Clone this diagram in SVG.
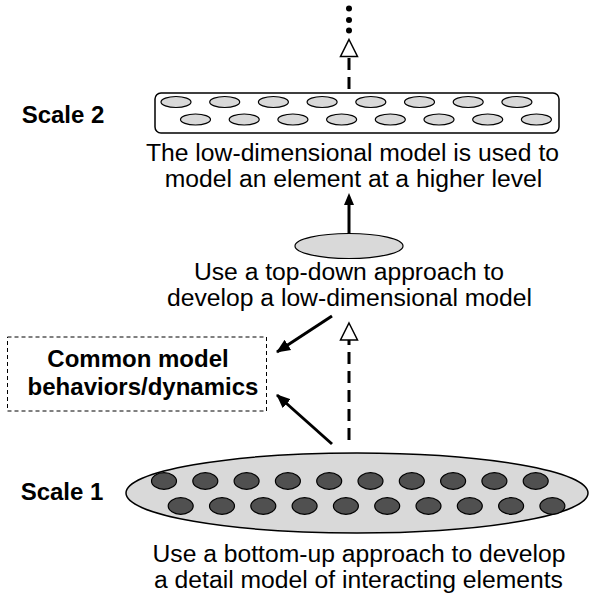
<svg xmlns="http://www.w3.org/2000/svg" width="595" height="600" viewBox="0 0 595 600">
<style>
.t{font-family:"Liberation Sans",Arial,sans-serif;font-size:24.7px;fill:#000;text-anchor:middle}
.b{font-weight:bold;font-size:24px}
.lg{fill:#d9d9d9;stroke:#000;stroke-width:1.5}
.dk{fill:#505050;stroke:#000;stroke-width:1.2}
.sm{fill:#d9d9d9;stroke:#000;stroke-width:1.2}
.dash{stroke:#000;stroke-width:3;stroke-dasharray:12 7;fill:none}
.solid{stroke:#000;stroke-width:3;fill:none}
</style>
<defs>
<marker id="solidhead" viewBox="0 0 14 14" markerWidth="14" markerHeight="14" refX="13" refY="7" orient="auto" markerUnits="userSpaceOnUse">
<path d="M0,1 L14,7 L0,13 Z" fill="#000"/>
</marker>
</defs>

<g id="scale2-label"><text class="t b" x="63" y="123">Scale 2</text></g>
<g id="scale1-label"><text class="t b" x="62" y="500">Scale 1</text></g>

<g id="scale2-node">
<rect x="155" y="93" width="404" height="40" rx="6" fill="#fff" stroke="#000" stroke-width="1.5"/>
<g class="sm">
<ellipse cx="176" cy="102" rx="15" ry="5.5"/>
<ellipse cx="224.7" cy="102" rx="15" ry="5.5"/>
<ellipse cx="273.4" cy="102" rx="15" ry="5.5"/>
<ellipse cx="322.1" cy="102" rx="15" ry="5.5"/>
<ellipse cx="370.8" cy="102" rx="15" ry="5.5"/>
<ellipse cx="419.5" cy="102" rx="15" ry="5.5"/>
<ellipse cx="468.2" cy="102" rx="15" ry="5.5"/>
<ellipse cx="516.9" cy="102" rx="15" ry="5.5"/>
<ellipse cx="195.5" cy="119.5" rx="15" ry="5.5"/>
<ellipse cx="244.2" cy="119.5" rx="15" ry="5.5"/>
<ellipse cx="292.9" cy="119.5" rx="15" ry="5.5"/>
<ellipse cx="341.6" cy="119.5" rx="15" ry="5.5"/>
<ellipse cx="390.3" cy="119.5" rx="15" ry="5.5"/>
<ellipse cx="439" cy="119.5" rx="15" ry="5.5"/>
<ellipse cx="487.7" cy="119.5" rx="15" ry="5.5"/>
<ellipse cx="536.4" cy="119.5" rx="15" ry="5.5"/>
</g>
</g>
<g id="scale2-text">
<text class="t" x="352.5" y="161">The low-dimensional model is used to</text>
<text class="t" x="353.5" y="187">model an element at a higher level</text>
</g>

<g id="lowdim-node">
<ellipse class="sm" cx="349" cy="246" rx="54" ry="12.5"/>
</g>
<g id="lowdim-text">
<text class="t" x="349" y="280">Use a top-down approach to</text>
<text class="t" x="349.5" y="306">develop a low-dimensional model</text>
</g>

<g id="common-node">
<rect x="7.5" y="337" width="259" height="74" fill="#fff" stroke="#000" stroke-width="1" stroke-dasharray="4 3"/>
<text class="t b" x="138" y="367">Common model</text>
<text class="t b" x="143" y="395">behaviors/dynamics</text>
</g>

<g id="scale1-node">
<ellipse class="lg" cx="357" cy="493" rx="231" ry="40"/>
<g class="dk">
<ellipse cx="164" cy="481" rx="12.5" ry="8.3"/>
<ellipse cx="205.3" cy="481" rx="12.5" ry="8.3"/>
<ellipse cx="246.6" cy="481" rx="12.5" ry="8.3"/>
<ellipse cx="287.9" cy="481" rx="12.5" ry="8.3"/>
<ellipse cx="329.2" cy="481" rx="12.5" ry="8.3"/>
<ellipse cx="370.5" cy="481" rx="12.5" ry="8.3"/>
<ellipse cx="411.8" cy="481" rx="12.5" ry="8.3"/>
<ellipse cx="453.1" cy="481" rx="12.5" ry="8.3"/>
<ellipse cx="494.4" cy="481" rx="12.5" ry="8.3"/>
<ellipse cx="535.7" cy="481" rx="12.5" ry="8.3"/>
<ellipse cx="180.7" cy="506" rx="12.5" ry="8.3"/>
<ellipse cx="222" cy="506" rx="12.5" ry="8.3"/>
<ellipse cx="263.3" cy="506" rx="12.5" ry="8.3"/>
<ellipse cx="304.6" cy="506" rx="12.5" ry="8.3"/>
<ellipse cx="345.9" cy="506" rx="12.5" ry="8.3"/>
<ellipse cx="387.2" cy="506" rx="12.5" ry="8.3"/>
<ellipse cx="428.5" cy="506" rx="12.5" ry="8.3"/>
<ellipse cx="469.8" cy="506" rx="12.5" ry="8.3"/>
<ellipse cx="511.1" cy="506" rx="12.5" ry="8.3"/>
<ellipse cx="552.4" cy="506" rx="12.5" ry="8.3"/>
</g>
</g>
<g id="scale1-text">
<text class="t" x="359" y="562">Use a bottom-up approach to develop</text>
<text class="t" x="358.5" y="588">a detail model of interacting elements</text>
</g>

<g id="connectors">
<line class="dash" x1="349" y1="89" x2="349" y2="57"/>
<path d="M349,39.5 L357.5,56.5 L340.5,56.5 Z" fill="#fff" stroke="#000" stroke-width="1.5"/>
<circle cx="349" cy="8.5" r="3"/>
<circle cx="349" cy="20" r="3"/>
<circle cx="349" cy="30.5" r="3"/>
<line class="solid" x1="349" y1="233" x2="349" y2="204"/>
<path d="M349,193 L354,205 L344,205 Z" fill="#000"/>
<line class="dash" x1="349" y1="440" x2="349" y2="340"/>
<path d="M349,323 L357.5,340 L340.5,340 Z" fill="#fff" stroke="#000" stroke-width="1.5"/>
<line class="solid" x1="332" y1="316" x2="277" y2="352" marker-end="url(#solidhead)"/>
<line class="solid" x1="332" y1="444" x2="277" y2="395" marker-end="url(#solidhead)"/>
</g>
</svg>
